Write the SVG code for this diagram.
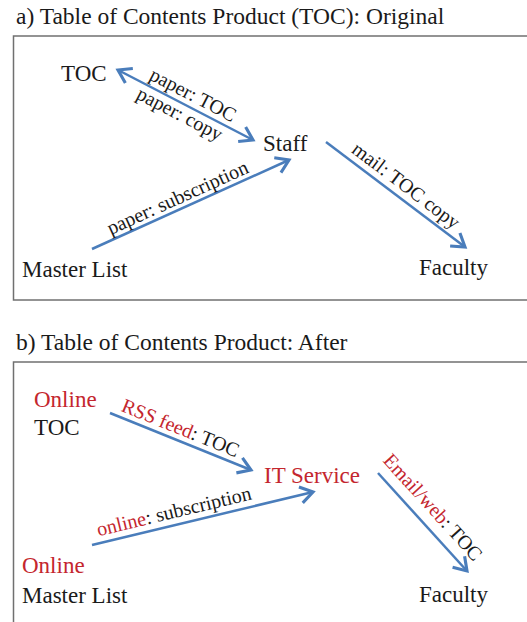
<svg xmlns="http://www.w3.org/2000/svg" width="527" height="622" viewBox="0 0 527 622">
<style>
.title{font-family:"Liberation Serif","Times New Roman",serif;font-size:23.5px;fill:#1a1a1a}
.node{font-family:"Liberation Serif","Times New Roman",serif;font-size:23px;fill:#1a1a1a}
.lbl{font-family:"Liberation Serif","Times New Roman",serif;font-size:20px;fill:#1a1a1a;text-anchor:middle}
.red{fill:#c4262e}
.box{fill:none;stroke:#707070;stroke-width:1.5}
.edge{fill:none;stroke:#4a7dbb;stroke-width:2.5}
</style>
<defs>
<marker id="arr" markerUnits="userSpaceOnUse" markerWidth="20" markerHeight="20" viewBox="-12 -8 14 16" refX="0" refY="0" orient="auto-start-reverse">
<path d="M-10,-6.5 L0,0 L-10,6.5" fill="none" stroke="#4a7dbb" stroke-width="2.5"/>
</marker>
</defs>
<rect width="527" height="622" fill="#ffffff"/>

<g id="panel-a">
<text class="title" x="16" y="24">a) Table of Contents Product (TOC): Original</text>
<rect class="box" x="13.5" y="36" width="530" height="264"/>
</g>
<g id="panel-b">
<text class="title" x="16" y="350">b) Table of Contents Product: After</text>
<rect class="box" x="13.5" y="362" width="530" height="300"/>
</g>

<g id="a-toc"><text class="node" x="61" y="81">TOC</text></g>
<g id="a-staff"><text class="node" x="263" y="151">Staff</text></g>
<g id="a-master"><text class="node" x="22" y="277">Master List</text></g>
<g id="a-faculty"><text class="node" x="419" y="275">Faculty</text></g>

<g id="b-toc"><text class="node red" x="34" y="407">Online</text><text class="node" x="34" y="435">TOC</text></g>
<g id="b-it"><text class="node red" x="264" y="483">IT Service</text></g>
<g id="b-master"><text class="node red" x="22" y="573">Online</text><text class="node" x="22" y="603">Master List</text></g>
<g id="b-faculty"><text class="node" x="419" y="602">Faculty</text></g>

<g id="connectors">
<line class="edge" x1="118" y1="70" x2="253" y2="140" marker-start="url(#arr)" marker-end="url(#arr)"/>
<line class="edge" x1="92" y1="249" x2="289" y2="160" marker-end="url(#arr)"/>
<line class="edge" x1="326" y1="142" x2="465" y2="247" marker-end="url(#arr)"/>
<line class="edge" x1="110" y1="413" x2="251" y2="470" marker-end="url(#arr)"/>
<line class="edge" x1="92" y1="545" x2="313" y2="492" marker-end="url(#arr)"/>
<line class="edge" x1="378" y1="473" x2="467" y2="571" marker-end="url(#arr)"/>

<g transform="translate(185.5,105) rotate(27.4)">
<text class="lbl" x="2" y="-6">paper: TOC</text>
<text class="lbl" x="-1" y="17">paper: copy</text>
</g>
<g transform="translate(190.5,204.5) rotate(-24.3)">
<text class="lbl" x="-9" y="-5">paper: subscription</text>
</g>
<g transform="translate(395.5,194.5) rotate(37.1)">
<text class="lbl" x="3" y="-7">mail: TOC copy</text>
</g>
<g transform="translate(180.5,441.5) rotate(22)">
<text class="lbl" x="-5" y="-6"><tspan class="red">RSS feed</tspan>: TOC</text>
</g>
<g transform="translate(202.5,518.5) rotate(-13.5)">
<text class="lbl" x="-26" y="-7"><tspan class="red">online</tspan>: subscription</text>
</g>
<g transform="translate(422.5,522) rotate(47.8)">
<text class="lbl" x="-4" y="-11"><tspan class="red">Email/web</tspan>: TOC</text>
</g>
</g>
</svg>
